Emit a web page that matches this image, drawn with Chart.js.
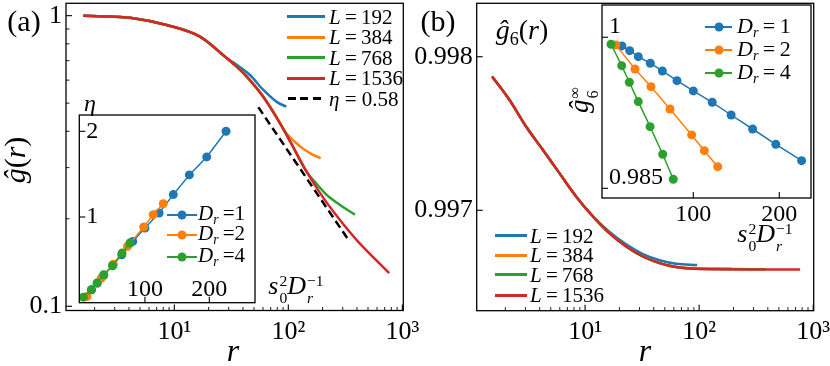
<!DOCTYPE html>
<html>
<head>
<meta charset="utf-8">
<script src="https://cdn.jsdelivr.net/npm/chart.js@4.4.1/dist/chart.umd.min.js"></script>
<style>
  html, body { margin: 0; padding: 0; background: #fff; }
  #fig { position: relative; width: 830px; height: 366px; overflow: hidden;
         font-family: "Liberation Serif", "Times New Roman", serif; color: #000; }
  #fig canvas { position: absolute; left: 0; top: 0; }
  .t { position: absolute; white-space: nowrap; line-height: 1; transform: translate(-50%, -50%); }
  .rot { transform: translate(-50%, -50%) rotate(-90deg); }
  .lg { position: absolute; white-space: nowrap; line-height: 1; transform: translateY(-50%); }
  .sw { position: absolute; height: 3px; }
  .sw.thin { height: 2px; }
  .dot { position: absolute; width: 9px; height: 9px; border-radius: 50%; transform: translate(-50%, -50%); }
  .st { display: inline-flex; flex-direction: column; font-size: .6em; line-height: 1.1; vertical-align: .5em; margin-left: 1px; }
  .sb { font-size: .65em; vertical-align: -.3em; }
  i { font-style: italic; }
</style>
</head>
<body>
<div id="fig">
  <canvas id="cA" width="830" height="366"></canvas>
  <canvas id="cB" width="830" height="366"></canvas>
  <canvas id="cIA" width="830" height="366"></canvas>
  <canvas id="cIB" width="830" height="366"></canvas>
  <div id="txt"></div>
</div>
<script>
// panel (a): ĝ(r) against r, one curve per system size L
const rL192 = [1.59, 2.73, 4.37, 8.58, 16.8, 28.8, 35.2, 46.1, 60.4, 79.1, 96];
const gL192 = [1.0, 0.993, 0.980, 0.929, 0.847, 0.715, 0.678, 0.625, 0.555, 0.505, 0.486];
const rL384 = [1.59, 2.73, 4.37, 8.58, 16.8, 28.8, 35.2, 43.2, 60.3, 84.6, 90.4, 126.8, 160, 192];
const gL384 = [1.0, 0.993, 0.980, 0.929, 0.847, 0.715, 0.668, 0.617, 0.526, 0.428, 0.407, 0.355, 0.334, 0.323];
const rL768 = [1.59, 2.73, 4.37, 8.58, 16.8, 28.8, 35.2, 43.2, 60.3, 84.6, 103.5, 145, 180, 217, 284, 384];
const gL768 = [1.0, 0.993, 0.980, 0.929, 0.847, 0.715, 0.668, 0.617, 0.526, 0.426, 0.37, 0.29, 0.262, 0.2416, 0.2232, 0.2066];
const rL1536 = [1.59, 2.73, 4.37, 8.58, 16.8, 28.8, 35.2, 43.2, 60.3, 84.6, 103.5, 145, 203, 284, 398, 768];
const gL1536 = [1.0, 0.993, 0.980, 0.929, 0.847, 0.715, 0.668, 0.617, 0.526, 0.426, 0.37, 0.29, 0.236, 0.198, 0.169, 0.130];
const rEta = [54.6, 336];
const gEta = [0.484, 0.1695];

// panel (b): ĝ6(r) against r
const rB192 = [1.53, 2.17, 3.04, 4.26, 5.96, 8.34, 11.7, 16.3, 22.9, 32.1, 44.9, 62.8, 96];
const gB192 = [0.997872, 0.997720, 0.997546, 0.997394, 0.997242, 0.997090, 0.996962, 0.996860, 0.996778, 0.996715, 0.996675, 0.996652, 0.996643];
const rB384 = [1.53, 2.17, 3.04, 4.26, 5.96, 8.34, 11.7, 16.3, 22.9, 32.1, 44.9, 62.8, 88, 192];
const gB384 = [0.997872, 0.997720, 0.997546, 0.997394, 0.997242, 0.997090, 0.996960, 0.996851, 0.996764, 0.996699, 0.996656, 0.996630, 0.996624, 0.996620];
const rB768 = [1.53, 2.17, 3.04, 4.26, 5.96, 8.34, 11.7, 16.3, 22.9, 32.1, 44.9, 62.8, 88, 200, 384];
const gB768 = [0.997872, 0.997720, 0.997546, 0.997394, 0.997242, 0.997090, 0.996960, 0.996851, 0.996764, 0.996699, 0.996656, 0.996630, 0.996619, 0.996617, 0.996616];
const rB1536 = [1.53, 2.17, 3.04, 4.26, 5.96, 8.34, 11.7, 16.3, 22.9, 32.1, 44.9, 62.8, 88, 200, 768];
const gB1536 = [0.997872, 0.997720, 0.997546, 0.997394, 0.997242, 0.997090, 0.996960, 0.996851, 0.996764, 0.996699, 0.996656, 0.996630, 0.996619, 0.996615, 0.996615];

// insets: s0^2 / Dr on x, eta (a) and ĝ6 at infinity (b) on y
const sDr1 = [17, 26, 36, 50, 64, 81, 100, 122, 144, 169, 196, 226];
const sDr2 = [9.8, 32.2, 50.8, 72.9, 98.1, 112.8, 128.4];
const sDr4 = [4.3, 16.7, 25.6, 36, 49.7, 64.4, 76.7];
const etaDr1 = [0.15, 0.23, 0.32, 0.44, 0.56, 0.715, 0.871, 1.047, 1.261, 1.491, 1.701, 2.0];
const etaDr2 = [0.072, 0.287, 0.45, 0.657, 0.883, 1.027, 1.155];
const etaDr4 = [0.065, 0.151, 0.229, 0.326, 0.431, 0.579, 0.696];
const ginfDr1 = [0.99914, 0.99867, 0.99807, 0.99742, 0.99665, 0.99569, 0.99467, 0.99354, 0.99228, 0.99089, 0.98937, 0.98775];
const ginfDr2 = [0.99924, 0.99685, 0.99509, 0.99288, 0.99030, 0.98874, 0.98715];
const ginfDr4 = [0.99930, 0.99718, 0.99553, 0.99361, 0.99112, 0.98838, 0.98590];

const logMajor = [10, 100, 1000];
const logMinor = [2, 3, 4, 5, 6, 7, 8, 9, 20, 30, 40, 50, 60, 70, 80, 90, 200, 300, 400, 500, 600, 700, 800, 900];
const supLabel = { 10: '10\u00b9', 100: '10\u00b2', 1000: '10\u00b3' };

const W = 830, H = 366;
const FONT = '"Liberation Serif", "Times New Roman", serif';
const C1 = '#1f77b4', C2 = '#ff7f0e', C3 = '#2ca02c', C4 = '#d62728';

// box round the plot area and inward ticks, matplotlib style
const frame = {
  id: 'frame',
  beforeDraw(chart, args, o) {
    if (!o.fill) return;
    const a = chart.chartArea, c = chart.ctx;
    c.save(); c.fillStyle = '#fff';
    c.fillRect(a.left, a.top, a.right - a.left, a.bottom - a.top);
    c.restore();
  },
  afterDraw(chart, args, o) {
    const a = chart.chartArea, c = chart.ctx, sx = chart.scales.x;
    c.save();
    c.strokeStyle = '#000';
    c.lineWidth = 1.3;
    c.strokeRect(a.left, a.top, a.right - a.left, a.bottom - a.top);
    const tk = (scale, vals, len, lw) => {
      c.lineWidth = lw;
      (vals || []).forEach((v) => {
        if (v < scale.min || v > scale.max) return;
        const p = scale.getPixelForValue(v);
        c.beginPath();
        if (scale.isHorizontal()) { c.moveTo(p, a.bottom); c.lineTo(p, a.bottom - len); }
        else { c.moveTo(a.left, p); c.lineTo(a.left + len, p); }
        c.stroke();
      });
    };
    tk(sx, o.xMajor, 6, 1.1);
    tk(sx, o.xMinor, 3.5, 0.9);
    tk(chart.scales.y, o.yMajor, 6, 1.1);
    tk(chart.scales.y, o.yMinor, 3.5, 0.9);
    // x tick labels placed inside the box (inset a)
    if (o.xInside) {
      c.fillStyle = '#000';
      c.font = o.xInside.size + 'px ' + FONT;
      c.textAlign = 'center';
      c.textBaseline = 'middle';
      sx.ticks.forEach((t) => c.fillText(String(t.value), sx.getPixelForValue(t.value), a.bottom + o.xInside.dy));
    }
    c.restore();
  }
};

function curve(xs, ys, color, order, extra) {
  return Object.assign({
    data: xs.map((x, i) => ({ x, y: ys[i] })),
    borderColor: color, backgroundColor: color, borderWidth: 2.5,
    pointRadius: 0, cubicInterpolationMode: 'monotone', order,
  }, extra || {});
}
function marks(xs, ys, color, order) {
  return {
    data: xs.map((x, i) => ({ x, y: ys[i] })),
    borderColor: color, backgroundColor: color, borderWidth: 1.5,
    pointRadius: 4.5, pointBorderWidth: 0, pointBackgroundColor: color, tension: 0, order,
  };
}

// box = [left, top, right, bottom] of the plot area, in page pixels
function makeChart(id, box, datasets, xs, ys, frameOpt) {
  const [l, t, r, b] = box;
  const base = (extra, fit) => Object.assign({
    bounds: 'data',
    grid: { display: false, drawTicks: false },
    border: { display: false },
    afterFit: (s) => { fit(s); s.paddingLeft = s.paddingRight = s.paddingTop = s.paddingBottom = 0; },
  }, extra);
  return new Chart(document.getElementById(id), {
    type: 'line',
    data: { datasets },
    options: {
      responsive: false, animation: false, events: [], devicePixelRatio: 1,
      layout: { padding: { left: 0, top: t, right: W - r, bottom: 0 } },
      plugins: { legend: { display: false }, tooltip: { enabled: false }, frame: frameOpt },
      scales: {
        x: base(xs, (s) => { s.height = H - b; }),
        y: base(ys, (s) => { s.width = l; }),
      },
    },
    plugins: [frame],
  });
}

const tickFont = (size) => ({ family: FONT, size });
const setTicks = (vals) => (s) => { s.ticks = vals.map((v) => ({ value: v })); };

// (a) main
makeChart('cA', [66, 3.3, 403.3, 310.5], [
  curve(rEta, gEta, '#000', 0, { borderDash: [8, 4.5], cubicInterpolationMode: 'default' }),
  curve(rL1536, gL1536, C4, 1),
  curve(rL768, gL768, C3, 2),
  curve(rL384, gL384, C2, 3),
  curve(rL192, gL192, C1, 4),
], {
  type: 'logarithmic', min: 1.122, max: 1020,
  afterBuildTicks: setTicks(logMajor),
  ticks: { font: tickFont(26), color: '#000', padding: 6, maxRotation: 0, autoSkip: false, callback: (v) => supLabel[v] },
}, {
  type: 'logarithmic', min: 0.0967, max: 1.103,
  afterBuildTicks: setTicks([0.1, 1]),
  ticks: { font: tickFont(26), color: '#000', padding: 4, autoSkip: false, callback: (v) => String(v) },
}, { xMajor: logMajor, xMinor: logMinor, yMajor: [0.1, 1], yMinor: [0.2, 0.3, 0.4, 0.5, 0.6, 0.7, 0.8, 0.9] });

// (b) main
makeChart('cB', [476.7, 3.3, 813.7, 310.7], [
  curve(rB1536, gB1536, C4, 1),
  curve(rB768, gB768, C3, 2),
  curve(rB384, gB384, C2, 3),
  curve(rB192, gB192, C1, 4),
], {
  type: 'logarithmic', min: 1.122, max: 1010,
  afterBuildTicks: setTicks(logMajor),
  ticks: { font: tickFont(26), color: '#000', padding: 6, maxRotation: 0, autoSkip: false, callback: (v) => supLabel[v] },
}, {
  type: 'linear', min: 0.996346, max: 0.998348,
  afterBuildTicks: setTicks([0.997, 0.998]),
  ticks: { font: tickFont(26), color: '#000', padding: 4, autoSkip: false, callback: (v) => v.toFixed(3) },
}, { xMajor: logMajor, xMinor: logMinor, yMajor: [0.997, 0.998] });

// (a) inset: eta
makeChart('cIA', [79.3, 115, 255, 302.7], [
  marks(sDr4, etaDr4, C3, 0),
  marks(sDr2, etaDr2, C2, 1),
  marks(sDr1, etaDr1, C1, 2),
], {
  type: 'linear', min: -2, max: 271,
  afterBuildTicks: setTicks([100, 200]),
  ticks: { display: false },
}, {
  type: 'linear', min: 0, max: 2.19,
  afterBuildTicks: setTicks([1, 2]),
  ticks: { font: tickFont(24), color: '#000', mirror: true, padding: 7, autoSkip: false, callback: (v) => String(v) },
}, { fill: true, xMajor: [100, 200], yMajor: [1, 2], xInside: { size: 24, dy: -13 } });

// (b) inset: ĝ6 at infinity
makeChart('cIB', [602, 5, 811, 198], [
  marks(sDr4, ginfDr4, C3, 0),
  marks(sDr2, ginfDr2, C2, 1),
  marks(sDr1, ginfDr1, C1, 2),
], {
  type: 'linear', min: -6.2, max: 236.9,
  afterBuildTicks: setTicks([100, 200]),
  ticks: { font: tickFont(24), color: '#000', padding: 2, maxRotation: 0, autoSkip: false, callback: (v) => String(v) },
}, {
  type: 'linear', min: 0.98404, max: 1.0032,
  afterBuildTicks: setTicks([0.985, 1]),
  ticks: { font: tickFont(24), color: '#000', mirror: true, padding: 7, labelOffset: -11, autoSkip: false, callback: (v) => (v === 1 ? '1' : v.toFixed(3)) },
}, { fill: true, xMajor: [100, 200], yMajor: [0.985, 1] });

// text and legends as html
const sD = '<i>s</i><span class="st"><span>2</span><span>0</span></span><i>D</i><span class="st"><span>\u22121</span><i>r</i></span>';
const labels = [
  ['(a)', 24, 21, 30, ''],
  ['(b)', 438, 21, 30, ''],
  ['<i>\u011d</i>(<i>r</i>)', 15, 160, 30, 'rot'],
  ['<i>r</i>', 233, 350, 32, ''],
  ['<i>r</i>', 645, 350, 32, ''],
  ['<i>\u011d</i><span class="sb">6</span>(<i>r</i>)', 522, 32, 28, ''],
  ['<i>\u03b7</i>', 90, 103, 24, ''],
  [sD, 296, 289, 26, ''],
  [sD, 765, 237, 26, ''],
  ['<i>\u011d</i><span class="st"><span>\u221e</span><span>6</span></span>', 584, 100, 27, 'rot'],
];
const txt = document.getElementById('txt');
labels.forEach(([h, x, y, fs, cls]) => {
  const d = document.createElement('div');
  d.className = 't ' + cls;
  d.style.left = x + 'px'; d.style.top = y + 'px'; d.style.fontSize = fs + 'px';
  d.innerHTML = h;
  txt.appendChild(d);
});

function legendRow(x0, x1, tx, y, fs, color, html, opt) {
  opt = opt || {};
  const s = document.createElement('div');
  s.className = 'sw' + (opt.thin ? ' thin' : '');
  s.style.left = x0 + 'px'; s.style.width = (x1 - x0) + 'px';
  s.style.top = Math.round(y - (opt.thin ? 1 : 1.5)) + 'px';
  s.style.background = opt.dash ? 'repeating-linear-gradient(90deg,#000 0 8px,transparent 8px 12.5px)' : color;
  txt.appendChild(s);
  if (opt.dot) {
    const d = document.createElement('div');
    d.className = 'dot';
    d.style.left = ((x0 + x1) / 2) + 'px'; d.style.top = y + 'px'; d.style.background = color;
    txt.appendChild(d);
  }
  const t = document.createElement('div');
  t.className = 'lg';
  t.style.left = tx + 'px'; t.style.top = y + 'px'; t.style.fontSize = fs + 'px';
  t.innerHTML = html;
  txt.appendChild(t);
}
const Lsz = ['192', '384', '768', '1536'];
const Lcol = [C1, C2, C3, C4];
const Ltext = (n) => '<i>L</i>\u2009=\u2009' + n;
const Drs = ['1', '2', '4'];

[16.5, 37, 57.5, 78].forEach((y, i) => legendRow(287, 325, 329, y, 21, Lcol[i], Ltext(Lsz[i])));
legendRow(288, 325, 329, 98.5, 21, '#000', '<i>\u03b7</i> = 0.58', { dash: true });
[235.5, 255, 274.5, 295].forEach((y, i) => legendRow(495, 527, 530, y, 21, Lcol[i], Ltext(Lsz[i])));
[215, 235, 256.5].forEach((y, i) => legendRow(167, 197, 198, y, 21, Lcol[i], '<i>D</i><span class="sb"><i>r</i></span>\u2009=' + Drs[i], { dot: true, thin: true }));
[27, 49.5, 73].forEach((y, i) => legendRow(705, 732, 737, y, 22, Lcol[i], '<i>D</i><span class="sb"><i>r</i></span>\u2009=\u2009' + Drs[i], { dot: true, thin: true }));
</script>
</body>
</html>
